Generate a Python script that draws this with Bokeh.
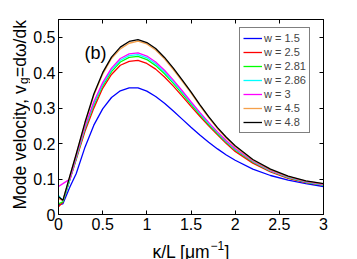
import math
from bokeh.plotting import figure
from bokeh.layouts import column, row
from bokeh.models import (FixedTicker, LinearAxis, Label, PrintfTickFormatter)
from bokeh.embed import file_html
from bokeh.resources import INLINE

# ---- data ----
x = [0, 0.05, 0.13, 0.2, 0.3, 0.4, 0.5, 0.6, 0.7, 0.8, 0.9, 1.0, 1.1, 1.2, 1.3,
     1.4, 1.5, 1.6, 1.7, 1.8, 1.9, 2.0, 2.2, 2.4, 2.6, 2.8, 3.0]

w15 = [0.028, 0.030, 0.078, 0.115, 0.190, 0.252, 0.298, 0.330, 0.349, 0.357, 0.357,
       0.348, 0.333, 0.314, 0.292, 0.269, 0.246, 0.224, 0.204, 0.185, 0.168, 0.153,
       0.128, 0.110, 0.097, 0.087, 0.079]
w25 = [0.022, 0.035, 0.099, 0.155, 0.235, 0.300, 0.356, 0.395, 0.421, 0.432, 0.435,
       0.426, 0.410, 0.388, 0.362, 0.334, 0.305, 0.277, 0.250, 0.225, 0.200, 0.178,
       0.145, 0.120, 0.102, 0.090, 0.082]
w281 = [0.030, 0.036, 0.100, 0.158, 0.242, 0.309, 0.363, 0.403, 0.430, 0.443, 0.446,
        0.437, 0.420, 0.397, 0.370, 0.341, 0.311, 0.282, 0.254, 0.228, 0.204, 0.182,
        0.148, 0.122, 0.104, 0.091, 0.083]
w286 = [0.054, 0.038, 0.101, 0.160, 0.245, 0.313, 0.367, 0.408, 0.435, 0.448, 0.451,
        0.442, 0.425, 0.402, 0.374, 0.345, 0.315, 0.285, 0.257, 0.231, 0.206, 0.184,
        0.150, 0.123, 0.105, 0.092, 0.083]
w3 = [0.079, 0.087, 0.100, 0.163, 0.248, 0.318, 0.372, 0.413, 0.440, 0.453, 0.456,
      0.447, 0.430, 0.407, 0.379, 0.349, 0.318, 0.288, 0.260, 0.233, 0.208, 0.186,
      0.151, 0.124, 0.106, 0.093, 0.084]
w45 = [0.045, 0.040, 0.108, 0.168, 0.257, 0.336, 0.396, 0.440, 0.467, 0.483, 0.489,
       0.481, 0.464, 0.439, 0.409, 0.376, 0.343, 0.307, 0.273, 0.242, 0.215, 0.191,
       0.153, 0.126, 0.107, 0.094, 0.086]
w48 = [0.050, 0.040, 0.110, 0.170, 0.260, 0.340, 0.400, 0.444, 0.472, 0.488, 0.493,
       0.485, 0.468, 0.443, 0.413, 0.380, 0.346, 0.310, 0.276, 0.245, 0.218, 0.194,
       0.155, 0.128, 0.108, 0.095, 0.087]

series = [w15, w25, w281, w286, w3, w45, w48]
labels = ["w = 1.5", "w = 2.5", "w = 2.81", "w = 2.86", "w = 3", "w = 4.5", "w = 4.8"]
colors = ["#0000ff", "#ff0000", "#00ff00", "#00ffff", "#ff00ff", "#f5a04a", "#000000"]

x_ticks = [0, 0.5, 1, 1.5, 2, 2.5, 3]
y_ticks = [0, 0.1, 0.2, 0.3, 0.4, 0.5]

FONT = "Liberation Sans"

p = figure(width=327, height=235, x_range=(0, 3), y_range=(0, 0.55),
           output_backend="svg", toolbar_location=None,
           min_border_left=27, min_border_right=34, min_border_top=19,
           min_border_bottom=21)
p.grid.visible = False
p.outline_line_color = "black"
p.outline_line_width = 1
p.background_fill_color = "white"
p.border_fill_color = "white"

for ys, lab_, c in zip(series, labels, colors):
    p.line(x, ys, line_color=c, line_width=1.3, legend_label=lab_)

def style_axis(ax, show_labels):
    ax.major_tick_in = 4
    ax.major_tick_out = 0
    ax.minor_tick_line_color = None
    ax.axis_line_color = "black"
    ax.major_tick_line_color = "black"
    ax.major_label_text_font = FONT
    ax.major_label_text_color = "black"
    if show_labels:
        ax.major_label_text_font_size = "16px"
    else:
        ax.major_label_text_font_size = "0px"

p.xaxis.ticker = FixedTicker(ticks=x_ticks)
p.yaxis.ticker = FixedTicker(ticks=y_ticks)
p.xaxis.formatter = PrintfTickFormatter(format="%g")
p.yaxis.formatter = PrintfTickFormatter(format="%g")
style_axis(p.xaxis[0], True)
style_axis(p.yaxis[0], True)
p.xaxis.major_label_standoff = 3
p.yaxis.major_label_standoff = 3

top = LinearAxis(ticker=FixedTicker(ticks=x_ticks))
right = LinearAxis(ticker=FixedTicker(ticks=y_ticks))
style_axis(top, False)
style_axis(right, False)
top.major_label_standoff = 0
right.major_label_standoff = 0
p.add_layout(top, "above")
p.add_layout(right, "right")

# legend
lg = p.legend[0]
lg.location = (181, 81)
lg.margin = 0
lg.padding = 3
lg.spacing = 0
lg.label_height = 14
lg.glyph_height = 14
lg.glyph_width = 19
lg.label_standoff = 2
lg.label_text_font = FONT
lg.label_text_font_size = "11px"
lg.border_line_color = "black"
lg.border_line_width = 1
lg.background_fill_alpha = 1.0
lg.background_fill_color = "white"


def lab(fig, text, sx, sy, size, angle=0.0):
    fig.add_layout(Label(x=sx, y=sy, x_units="screen", y_units="screen", text=text,
                         text_font=FONT, text_font_size=size, angle=angle,
                         text_align="left", text_baseline="alphabetic",
                         text_color="black"))


def text_panel(w, h):
    f = figure(width=w, height=h, x_range=(0, 1), y_range=(0, 1),
               output_backend="svg", toolbar_location=None,
               x_axis_location=None, y_axis_location=None,
               min_border=0, min_border_left=0, min_border_right=0,
               min_border_top=0, min_border_bottom=0)
    f.grid.visible = False
    f.outline_line_color = None
    f.background_fill_color = "white"
    f.border_fill_color = "white"
    return f


lab(p, "(b)", 26, 162, "18px")

# y-axis title: Mode velocity, v_g=dω/dk  (panel frame is aligned with the plot frame)
ytitle = text_panel(30, 235)
A = math.pi / 2
lab(ytitle, "Mode velocity, v", 19, 5, "17.5px", angle=A)
lab(ytitle, "g", 23, 130.5, "12px", angle=A)
lab(ytitle, "=dω/dk", 19, 137.5, "17.5px", angle=A)

# x-axis title: κ/L [μm^-1]
xtitle = text_panel(357, 24)
lab(xtitle, "κ/L [μm", 152, 8, "17.5px")
lab(xtitle, "−1", 210, 14, "12px")
lab(xtitle, "]", 224, 8, "17.5px")

layout = column(row(ytitle, p, spacing=0), xtitle, spacing=0)

open("out.html", "w").write(file_html(layout, INLINE))
